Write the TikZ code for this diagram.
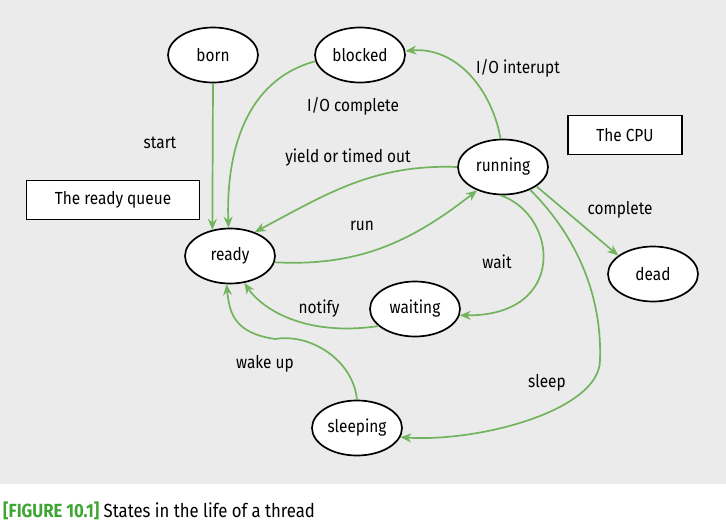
\documentclass[tikz,border=0pt]{standalone}
\usepackage{fontspec}
\setmainfont[FakeStretch=0.88]{Fira Sans}
\usetikzlibrary{shapes.geometric,arrows.meta}
\definecolor{bgray}{HTML}{EBEBEB}
\definecolor{arrgreen}{HTML}{72B35E}
\definecolor{capgreen}{HTML}{3FA535}
\tikzset{
  state/.style={ellipse,draw=black,fill=white,line width=1.7pt,minimum width=90pt,minimum height=55pt,inner sep=0pt,font=\fontsize{17.5}{19}\selectfont},
  titlebox/.style={rectangle,draw=black,fill=white,line width=1.6pt,inner sep=0pt,font=\fontsize{17.5}{19}\selectfont},
  lbl/.style={font=\fontsize{17.5}{19}\selectfont,inner sep=0pt},
  flow/.style={draw=arrgreen,line width=1.7pt,-{Stealth[length=11pt,width=9pt]}}
}
\begin{document}
\begin{tikzpicture}[x=1pt,y=-1pt]
\useasboundingbox (0,0) rectangle (726,522);
\fill[bgray] (0,0) rectangle (726,484);
% boxes
\node[titlebox,minimum width=173pt,minimum height=39pt] (rq) at (113,200) {The ready queue};
\node[titlebox,minimum width=114pt,minimum height=39pt] (cpu) at (625,135) {The CPU};
% states
\node[state] (born) at (213,55) {born};
\node[state] (blocked) at (360,55) {blocked};
\node[state] (ready) at (230,256) {ready};
\node[state] (running) at (503,167) {running};
\node[state] (waiting) at (415,309) {waiting};
\node[state] (dead) at (653,274) {dead};
\node[state] (sleeping) at (357,428) {sleeping};
% labels
\node[lbl] (lstart) at (160,143) {start};
\node[lbl] (lioc) at (353,106) {I/O complete};
\node[lbl] (lioi) at (518,68) {I/O interupt};
\node[lbl] (lyield) at (348,158) {yield or timed out};
\node[lbl] (lrun) at (362,226) {run};
\node[lbl] (lwait) at (497,262) {wait};
\node[lbl] (lcomplete) at (620,210) {complete};
\node[lbl] (lnotify) at (319,309) {notify};
\node[lbl] (lwake) at (265,364) {wake up};
\node[lbl] (lsleep) at (547,383) {sleep};
% connectors
\draw[flow] (born.south) -- (ready.124);
\draw[flow] (blocked.188) to[out=195,in=92] (ready.93);
\draw[flow] (running.95) to[out=100,in=5] (blocked.5);
\draw[flow] (running.180) to[out=178,in=28] (ready.44);
\draw[flow] (ready.-8) to[out=-3,in=218] (running.222);
\draw[flow] (running.-95) .. controls +(58,20) and +(108,1) .. (waiting.-8);
\draw[flow] (waiting.205) .. controls +(-75,11) and +(17,25) .. (ready.-62);
\draw[flow] (sleeping.north) .. controls +(-4,-40) and +(35,-6) .. (275,339) .. controls +(-40,-6) and +(3,30) .. (ready.-97);
\draw[flow] (running.-30) -- (dead.152);
\draw[flow] (running.-40) .. controls +(50,50) and +(2,-60) .. (600,360) .. controls +(0,50) and +(80,5) .. (sleeping.-12);
% caption
\node[anchor=base west,inner sep=0pt,font=\fontsize{19}{21}\selectfont] (cap) at (3,517) {\textcolor{capgreen}{\bfseries [FIGURE 10.1]} States in the life of a thread};
\end{tikzpicture}
\end{document}
